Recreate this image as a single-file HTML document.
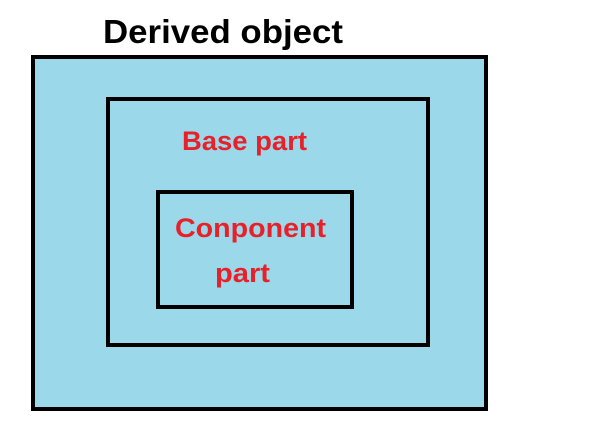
<!DOCTYPE html>
<html><head><style>html,body{margin:0;padding:0;background:#fff;width:601px;height:443px;overflow:hidden}</style></head>
<body>
<svg width="601" height="443" xmlns="http://www.w3.org/2000/svg">
<rect x="33" y="57" width="453" height="352" fill="#9bd9ea" stroke="#000" stroke-width="4"/>
<rect x="108" y="99" width="320" height="246" fill="none" stroke="#000" stroke-width="4"/>
<rect x="158" y="192" width="194" height="115" fill="none" stroke="#000" stroke-width="4"/>
<text x="103" y="43" font-family="Liberation Sans, sans-serif" font-weight="bold" font-size="33" textLength="240" lengthAdjust="spacingAndGlyphs" fill="#000">Derived object</text>
<g font-family="Liberation Sans, sans-serif" font-weight="bold" font-size="27" fill="#e8202a">
<text x="182" y="150" textLength="125" lengthAdjust="spacingAndGlyphs">Base part</text>
<text x="175" y="237" textLength="151" lengthAdjust="spacingAndGlyphs">Conponent</text>
<text x="215" y="282" textLength="55" lengthAdjust="spacingAndGlyphs">part</text>
</g>
</svg>
</body></html>
